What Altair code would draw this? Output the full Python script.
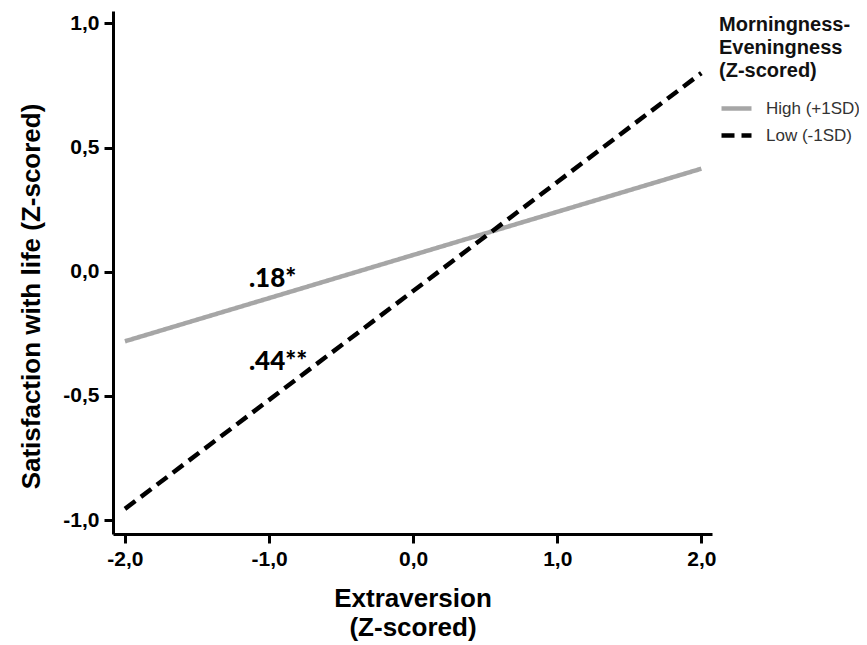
import altair as alt
import pandas as pd

# ---- data ----
groups = ["High (+1SD)", "Low (-1SD)"]
x_points = [-2.0, 2.0]
high_vals = [-0.28, 0.415]
low_vals = [-0.955, 0.80]

ann_text = [".18*", ".44**"]
ann_x = [-1.14, -1.14]
ann_y = [-0.03, -0.365]

x_ticks = [-2.0, -1.0, 0.0, 1.0, 2.0]
y_ticks = [-1.0, -0.5, 0.0, 0.5, 1.0]

rows = []
for xv, hv in zip(x_points, high_vals):
    rows.append({"x": xv, "y": hv, "group": groups[0]})
for xv, lv in zip(x_points, low_vals):
    rows.append({"x": xv, "y": lv, "group": groups[1]})
df = pd.DataFrame(rows)
ann = pd.DataFrame({"x": ann_x, "y": ann_y, "t": ann_text})

label_expr = "(datum.value < 0 ? '-' : '') + replace(format(abs(datum.value), '.1f'), '.', ',')"

xscale = alt.Scale(domain=[-2.083, 2.074], nice=False, zero=False)
yscale = alt.Scale(domain=[-1.056, 1.05], nice=False, zero=False)

legend_title = ["Morningness-", "Eveningness", "(Z-scored)"]

lines = alt.Chart(df).mark_line(strokeWidth=4.5).encode(
    x=alt.X("x:Q", scale=xscale,
            axis=alt.Axis(values=x_ticks, labelExpr=label_expr,
                          title=["Extraversion", "(Z-scored)"],
                          titleLineHeight=29, titlePadding=16)),
    y=alt.Y("y:Q", scale=yscale,
            axis=alt.Axis(values=y_ticks, labelExpr=label_expr,
                          title="Satisfaction with life (Z-scored)",
                          titlePadding=18, titleY=285)),
    color=alt.Color("group:N",
                    scale=alt.Scale(domain=groups, range=["#a6a6a6", "#000000"]),
                    legend=alt.Legend(
                        title=legend_title,
                        orient="none", legendX=606, legendY=4,
                        titleFont="Liberation Sans", titleFontSize=20,
                        titleFontWeight="bold", titleColor="#111",
                        titleLineHeight=23, titlePadding=10,
                        labelFont="Liberation Sans", labelFontSize=17,
                        labelColor="#333", labelOffset=12,
                        symbolType="stroke", symbolSize=900,
                        symbolStrokeWidth=4.5, rowPadding=0)),
    strokeDash=alt.StrokeDash("group:N",
                              scale=alt.Scale(domain=groups, range=[[1, 0], [13, 7]]),
                              legend=alt.Legend(title=legend_title,
                                                orient="none", legendX=606, legendY=4)),
    detail="group:N",
)

labels = alt.Chart(ann).mark_text(
    font="Lato", fontWeight=900, fontSize=26, align="left",
    baseline="middle", color="#000"
).encode(
    x=alt.X("x:Q", scale=xscale),
    y=alt.Y("y:Q", scale=yscale),
    text="t:N",
)

chart = (lines + labels).properties(
    width=599, height=523, autosize="none",
    padding={"left": 105, "top": 3, "right": 147, "bottom": 111},
).configure_view(stroke=None).configure_axis(
    grid=False, domainColor="#000", domainWidth=3,
    tickColor="#000", tickWidth=3, tickSize=9,
    labelFont="Liberation Sans", labelFontSize=21, labelFontWeight="bold",
    labelColor="#000", labelPadding=5,
    titleFont="Liberation Sans", titleFontSize=26, titleFontWeight="bold",
    titleColor="#000",
)

chart.save("out.html", embed_options={"renderer": "svg", "actions": False})
